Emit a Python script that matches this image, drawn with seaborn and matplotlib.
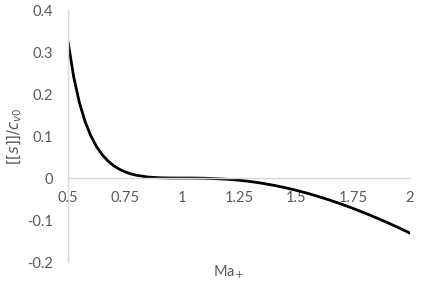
import matplotlib
import matplotlib.pyplot as plt
import numpy as np
import pandas as pd
import seaborn as sns

matplotlib.use("Agg")

# Valores
MACH = [0.500, 0.525, 0.550, 0.575, 0.600, 0.625, 0.650, 0.675, 0.700, 0.725,
        0.750, 0.775, 0.80, 0.85, 0.90, 0.95,
        1.00, 1.05, 1.10, 1.15, 1.20, 1.25, 1.30, 1.35, 1.40, 1.45,
        1.50, 1.55, 1.60, 1.65, 1.70, 1.75, 1.80, 1.85, 1.90, 1.95, 2.00]
SALTO_S = [0.3256, 0.2409, 0.1797, 0.1345, 0.1007, 0.0750, 0.0556, 0.0408, 0.0295, 0.0210,
           0.0147, 0.0100, 0.0066, 0.0024, 0.0006, 0.0001,
           0.0000, -0.0001, -0.0005, -0.0016, -0.0029, -0.0052, -0.0083, -0.0123, -0.0171, -0.0227,
           -0.0291, -0.0363, -0.0443, -0.0530, -0.0623, -0.0723, -0.0830, -0.0942, -0.1059, -0.1182, -0.1313]

X_TICKS = [0.5, 0.75, 1, 1.25, 1.5, 1.75, 2]
X_LABELS = ["0.5", "0.75", "1", "1.25", "1.5", "1.75", "2"]
Y_TICKS = [-0.2, -0.1, 0, 0.1, 0.2, 0.3, 0.4]
Y_LABELS = ["-0.2", "-0.1", "0", "0.1", "0.2", "0.3", "0.4"]

CINZA_TEXTO = "#595959"
CINZA_EIXO = "#D9D9D9"

sns.set_style("white")
plt.rcParams["font.family"] = ["Lato", "DejaVu Sans"]
plt.rcParams["mathtext.fontset"] = "dejavusans"

df = pd.DataFrame({"Ma": MACH, "s": SALTO_S})

fig = plt.figure(figsize=(4.33, 2.87), dpi=100)
fig.patch.set_facecolor("white")
ax = fig.add_axes([0.157, 0.087, 0.790, 0.878])

sns.lineplot(data=df, x="Ma", y="s", ax=ax, color="black", linewidth=2.0)
ax.lines[0].set_solid_joinstyle("round")

ax.set_xlim(0.5, 2)
ax.set_ylim(-0.2, 0.4)
ax.set_xticks(X_TICKS)
ax.set_xticklabels(X_LABELS)
ax.set_yticks(Y_TICKS)
ax.set_yticklabels(Y_LABELS)

for lado in ["top", "right"]:
    ax.spines[lado].set_visible(False)
ax.spines["bottom"].set_position(("data", 0))
for lado in ["bottom", "left"]:
    ax.spines[lado].set_color(CINZA_EIXO)
    ax.spines[lado].set_linewidth(1.0)

ax.tick_params(axis="x", direction="out", length=3.5, width=1.0, color=CINZA_EIXO,
               labelcolor=CINZA_TEXTO, labelsize=10.5, pad=6)
ax.tick_params(axis="y", direction="out", length=3.5, width=1.0, color=CINZA_EIXO,
               labelcolor=CINZA_TEXTO, labelsize=10.5, pad=7)

ax.set_xlabel(r"Ma$_{+}$", color=CINZA_TEXTO, fontsize=10.5)
ax.xaxis.set_label_coords(0.47, -0.005)
ax.set_ylabel(r"$[[s]]/c_{v0}$", color=CINZA_TEXTO, fontsize=10.5)
ax.yaxis.set_label_coords(-0.13, 0.5)

ax.grid(False)
fig.savefig("out.png", dpi=100, facecolor="white")
plt.close(fig)
